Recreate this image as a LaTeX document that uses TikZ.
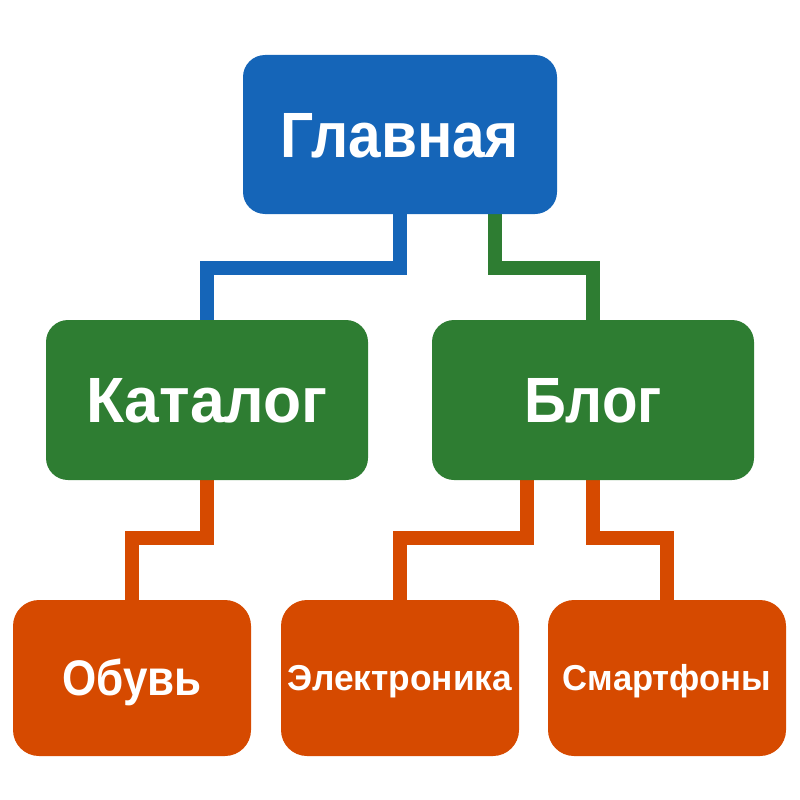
\documentclass[tikz,border=0pt]{standalone}
\usepackage{fontspec}
\setmainfont{Liberation Sans}
\usetikzlibrary{backgrounds}
\definecolor{cblue}{HTML}{1565B8}
\definecolor{cgreen}{HTML}{2E7D32}
\definecolor{corange}{HTML}{D64A00}
\newcommand{\sx}[2]{\scalebox{#1}[1]{#2}}
\tikzset{
  box/.style={rectangle, rounded corners=22pt, inner sep=0pt, text=white, align=center},
  bigbox/.style={box, minimum width=314pt, minimum height=159pt, font=\bfseries\fontsize{64}{70}\selectfont, text height=45.8pt, text depth=0pt},
  midbox/.style={box, minimum width=322pt, minimum height=160pt, font=\bfseries\fontsize{64}{70}\selectfont, text height=45.8pt, text depth=0pt},
  smallbox/.style={box, minimum width=238pt, minimum height=156pt, rounded corners=26pt},
  conn/.style={line width=14.5pt, line join=miter, line cap=butt},
}
\begin{document}
\begin{tikzpicture}[x=1pt,y=-1pt]
\useasboundingbox (0,0) rectangle (800,800);
% boxes
\node[bigbox, fill=cblue] (main) at (400,134.5) {\sx{0.915}{Главная}};
\node[midbox, fill=cgreen] (kat) at (207,400) {\sx{0.975}{Каталог}};
\node[midbox, fill=cgreen] (blog) at (593,400) {\sx{0.91}{Блог}};
\node[smallbox, fill=corange, font=\bfseries\fontsize{50}{60}\selectfont, text height=35.8pt, text depth=0pt] (obuv) at (132,678) {\sx{0.88}{Обувь}};
\node[smallbox, fill=corange, font=\bfseries\fontsize{36}{42}\selectfont, text height=25.8pt, text depth=0pt] (elec) at (400,678) {\sx{0.98}{Электроника}};
\node[smallbox, fill=corange, font=\bfseries\fontsize{36}{42}\selectfont, text height=25.8pt, text depth=0pt] (smart) at (667,678) {\sx{0.96}{Смартфоны}};
% connectors
\begin{pgfonlayer}{background}
\draw[conn, cblue] ([yshift=4pt]main.south) -- ++(0,58) -| ([yshift=-4pt]kat.north);
\draw[conn, cgreen] ([xshift=95pt,yshift=4pt]main.south) -- ++(0,58) -| ([yshift=-4pt]blog.north);
\draw[conn, corange] ([yshift=4pt]kat.south) -- ++(0,62) -| ([yshift=-4pt]obuv.north);
\draw[conn, corange] ([xshift=-66pt,yshift=4pt]blog.south) -- ++(0,62) -| ([yshift=-4pt]elec.north);
\draw[conn, corange] ([yshift=4pt]blog.south) -- ++(0,62) -| ([yshift=-4pt]smart.north);
\end{pgfonlayer}
\end{tikzpicture}
\end{document}
